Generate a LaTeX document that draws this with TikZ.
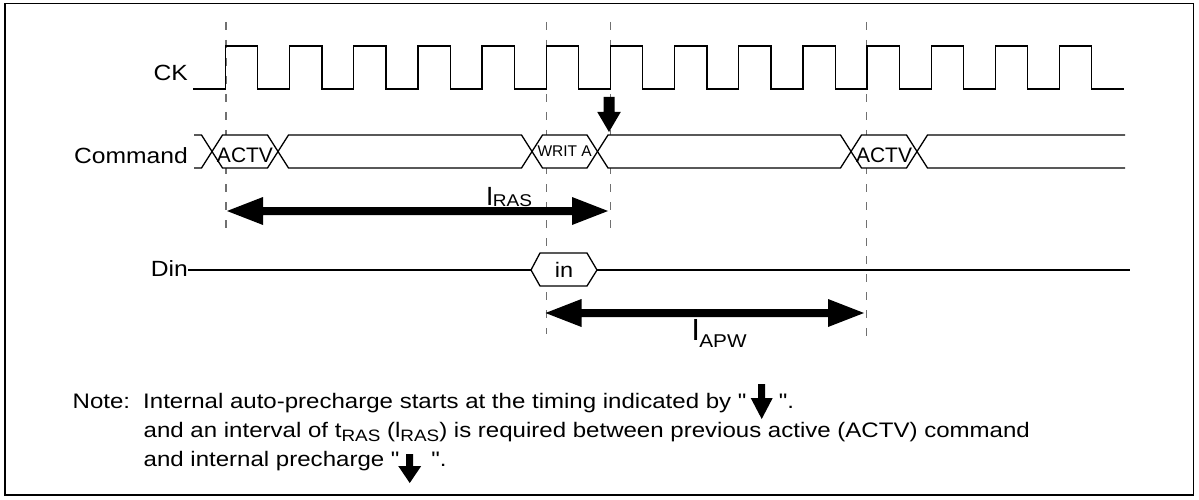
\documentclass[tikz,border=0pt]{standalone}
\usepackage{fontspec}
\setmainfont{Liberation Sans}
\newfontfamily\widefont{Liberation Sans}[FakeStretch=1.12]
\newfontfamily\notefont{Liberation Sans}[FakeStretch=1.145]
\usetikzlibrary{calc}
\definecolor{guidegray}{HTML}{707070}
\newcommand\fsz[1]{\fontsize{#1}{#1}\selectfont}
\newcommand\tdSub[1]{\raisebox{-4pt}{\fsz{16.5}#1}}
% bus segment between two crossing points
\newcommand\tdSeg[2]{\filldraw[sig, fill=white] (#1,151.5) -- ({#1+10.5},135) -- ({#2-10.5},135) -- (#2,151.5) -- ({#2-10.5},168) -- ({#1+10.5},168) -- cycle;}
% double-headed thick dimension arrow: left x, right x, y
\newcommand\tdDim[3]{\fill (#1,#3) -- ({#1+36},{#3-14}) -- ({#1+36},{#3-4}) -- ({#2-36},{#3-4}) -- ({#2-36},{#3-14}) -- (#2,#3) -- ({#2-36},{#3+14}) -- ({#2-36},{#3+4}) -- ({#1+36},{#3+4}) -- ({#1+36},{#3+14}) -- cycle;}
% thick down arrow: x, shaft top, head top, tip, shaft half width, head half width
\newcommand\tdDown[6]{\fill ({#1-#5},#2) -- ({#1+#5},#2) -- ({#1+#5},#3) -- ({#1+#6},#3) -- (#1,#4) -- ({#1-#6},#3) -- ({#1-#5},#3) -- cycle;}
\tikzset{
  sig/.style={line width=1.3pt, draw=black, line join=miter},
  guide/.style={line width=1.1pt, draw=guidegray, dash pattern=on 8pt off 10pt},
  lbl/.style={inner sep=0pt, font=\widefont\fsz{22}},
  note/.style={inner sep=0pt, font=\notefont\fsz{21}},
}
\begin{document}
\begin{tikzpicture}[x=1pt,y=-1pt]
\useasboundingbox (0,0) rectangle (1199,500);
\draw[line width=1.4pt] (5,3.5) rectangle (1193.5,495);

% guide lines
\draw[guide] (226,22) -- (226,229);
\draw[guide] (546.2,22) -- (546.2,334);
\draw[guide] (610.4,22) -- (610.4,232);
\draw[guide] (866.8,22) -- (866.8,336);

% CK
\node[lbl, anchor=base east] (ck) at (188,81) {CK};
\draw[sig] (193,89) \foreach \k in {0,...,13}{ -- ({225.5+64.15*\k},89) -- ++(0,-43) -- ++(32.3,0) -- ++(0,43)} -- (1124,89);

% Command
\node[lbl, anchor=base east] (cmd) at (188,163) {Command};
\draw[sig] (194,135) -- (201.5,135) -- (212,151.5) -- (201.5,168) -- (194,168);
\tdSeg{212}{278}
\tdSeg{278}{532}
\tdSeg{532}{597.5}
\tdSeg{597.5}{851}
\tdSeg{851}{917}
\draw[sig] (1125,135) -- (927.5,135) -- (917,151.5) -- (927.5,168) -- (1125,168);
\node[inner sep=0pt, font=\fsz{21}, anchor=base] (actv1) at (245,162) {ACTV};
\node[inner sep=0pt, font=\fsz{15.5}, anchor=base] (writa) at (564.7,157) {WRIT A};
\node[inner sep=0pt, font=\fsz{21}, anchor=base] (actv2) at (884,162) {ACTV};

% auto-precharge marker
\tdDown{609}{97}{112}{132}{5.5}{11.75}

% lRAS
\tdDim{227}{608}{211}
\node[inner sep=0pt, anchor=base west] (lras) at (486.5,205) {\widefont\fsz{25}l\raisebox{-1.5pt}{\fsz{17}RAS}};

% Din
\node[lbl, anchor=base east] (din) at (188,276) {Din};
\draw[sig] (188,270) -- (531,270);
\filldraw[sig, fill=white] (531,270) -- (540,253) -- (587,253) -- (597,270) -- (587,286) -- (540,286) -- cycle;
\draw[sig] (597,270) -- (1130,270);
\node[inner sep=0pt, font=\widefont\fsz{21}, anchor=base] (inval) at (564,277) {in};

% lAPW
\tdDim{545.5}{864}{313}
\node[inner sep=0pt, anchor=base west] (lapw) at (692,340) {\widefont\fsz{29}l\raisebox{-7pt}{\fsz{18.5}APW}};

% Note
\node[note, anchor=base west] (notehd) at (72.5,408) {Note:};
\node[note, anchor=base west] (l1a) at (143,408) {Internal auto-precharge starts at the timing indicated by "};
\begin{scope}[shift={(l1a.base east)}]
  \tdDown{15}{-24}{-10}{11}{3.5}{11}
\end{scope}
\node[note, anchor=base west] (l1b) at ($(l1a.base east)+(32,0)$) {".};
\node[note, anchor=base west] (l2) at (143.5,437) {and an interval of t\tdSub{RAS} (l\tdSub{RAS}) is required between previous active (ACTV) command};
\node[note, anchor=base west] (l3a) at (143.5,466) {and internal precharge "};
\begin{scope}[shift={(l3a.base east)}]
  \tdDown{10}{-12}{0}{17}{3.5}{11.5}
\end{scope}
\node[note, anchor=base west] (l3b) at ($(l3a.base east)+(31.5,0)$) {".};
\end{tikzpicture}
\end{document}
